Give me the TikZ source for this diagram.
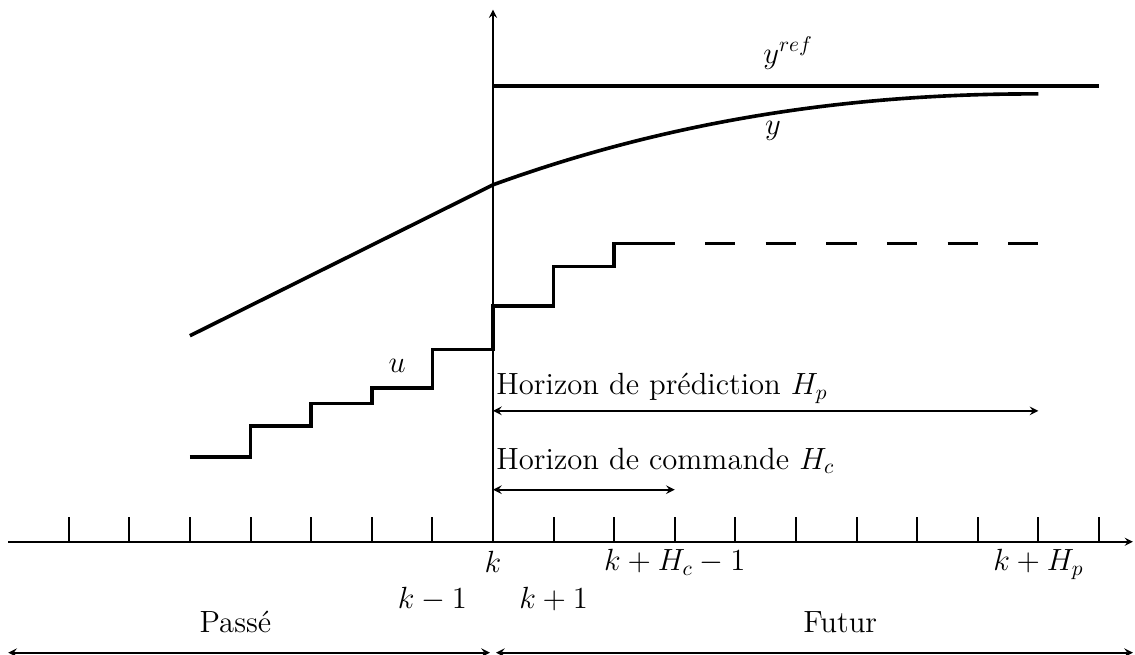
\documentclass[tikz,border=0pt]{standalone}
\usepackage{amsmath}
\usepackage{tikz}
\usetikzlibrary{arrows.meta, positioning}

\begin{document}
\begin{tikzpicture}[
    font=\Large,
    axis/.style={line width=0.7pt, ->, >=stealth},
    tickmark/.style={line width=0.9pt},
    signal/.style={line width=1.7pt},
    span/.style={line width=0.8pt, <->, >=stealth},
    lbl/.style={inner sep=0pt, anchor=base}
]
    \useasboundingbox (-8.135,-1.865) rectangle (10.594,8.94);

    % axes
    \coordinate (o) at (0,0);
    \coordinate (xmin) at (-8.0,0);
    \coordinate (xmax) at (10.56,0);
    \coordinate (ytop) at (0,8.78);
    \draw [axis] (xmin) -- (xmax);
    \draw [axis] (o) -- (ytop);
    \foreach \i in {-7,...,10}
        \draw [tickmark] (\i,0) -- (\i,0.41);

    % reference and output
    \coordinate (ref0) at (0,7.52);
    \coordinate (ref1) at (10,7.52);
    \draw [signal] (ref0) -- (ref1);
    \coordinate (y0) at (-5,3.40);
    \coordinate (yk) at (0,5.89);
    \coordinate (y1) at (9,7.39);
    \draw [signal] (y0) -- (yk) .. controls (3,6.98) and (6,7.40) .. (y1);

    % command
    \coordinate (u0) at (-5,1.40);
    \coordinate (uc) at (3,4.92);
    \coordinate (ud) at (3.5,4.92);
    \coordinate (u1) at (9,4.92);
    \draw [signal] (u0) -| (-4,1.91) -| (-3,2.28) -| (-2,2.54) -| (-1,3.17)
        -| (0,3.89) -| (1,4.54) -| (2,4.92) -- (uc);
    \draw [signal, dash pattern=on 0.5cm off 0.5cm] (ud) -- (u1);

    \node (yreflbl) [lbl] at (4.87,7.90) {$y^{ref}$};
    \node (ylbl) [lbl] at (4.62,6.72) {$y$};
    \node (ulbl) [lbl] at (-1.58,2.79) {$u$};

    % horizons
    \node (hp) [lbl, anchor=base west] at (0.05,2.43) {Horizon de prédiction $H_p$};
    \coordinate (hp0) at (0,2.16);
    \coordinate (hp1) at (9,2.16);
    \draw [span] (hp0) -- (hp1);
    \node (hc) [lbl, anchor=base west] at (0.05,1.20) {Horizon de commande $H_c$};
    \coordinate (hc0) at (0,0.86);
    \coordinate (hc1) at (3,0.86);
    \draw [span] (hc0) -- (hc1);

    % time labels
    \node (k) [lbl] at (0,-0.5) {$k$};
    \node (km) [lbl] at (-1,-1.1) {$k-1$};
    \node (kp) [lbl] at (1,-1.1) {$k+1$};
    \node (khc) [lbl] at (3,-0.48) {$k+H_c-1$};
    \node (khp) [lbl] at (9,-0.48) {$k+H_p$};

    % past / future
    \node (past) [lbl] at (-4.25,-1.5) {Passé};
    \node (fut) [lbl] at (5.73,-1.5) {Futur};
    \coordinate (p0) at (-8.0,-1.83);
    \coordinate (p1) at (-0.05,-1.83);
    \coordinate (f0) at (0.05,-1.83);
    \coordinate (f1) at (10.56,-1.83);
    \draw [span] (p0) -- (p1);
    \draw [span] (f0) -- (f1);
\end{tikzpicture}
\end{document}
